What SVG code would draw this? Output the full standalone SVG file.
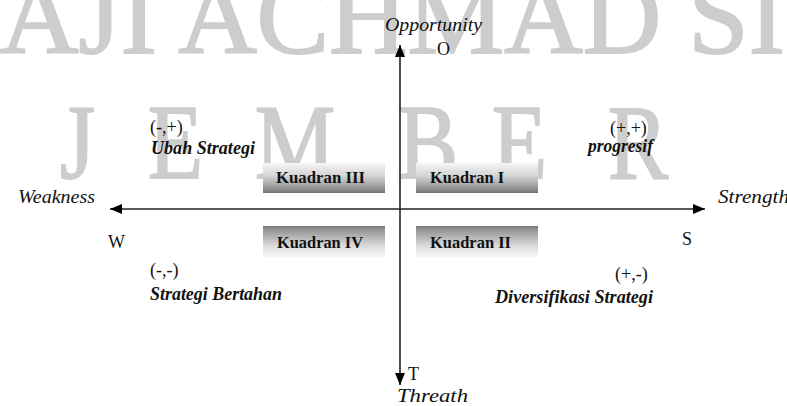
<svg xmlns="http://www.w3.org/2000/svg" width="787" height="406" viewBox="0 0 787 406">
<style>
.wm{font-family:"Liberation Serif","Times New Roman",serif;fill:#cdcdcd;stroke:#cdcdcd;stroke-width:2}
.ax{font-family:"Liberation Serif","Times New Roman",serif;font-style:italic;font-size:19px;fill:#111}
.lt{font-family:"Liberation Serif","Times New Roman",serif;font-size:18px;fill:#111}
.sc{font-family:"Liberation Serif","Times New Roman",serif;font-style:italic;font-weight:bold;font-size:19px;fill:#111}
.kd{font-family:"Liberation Serif","Times New Roman",serif;font-weight:bold;font-size:16.5px;fill:#111}
.axis{stroke:#222;stroke-width:1.6;fill:none}
</style>
<defs>
<linearGradient id="gTop" x1="0" y1="0" x2="0" y2="1">
<stop offset="0" stop-color="#f6f6f6"/>
<stop offset="0.45" stop-color="#d2d2d2"/>
<stop offset="0.9" stop-color="#8a8a8a"/>
<stop offset="1" stop-color="#6e6e6e"/>
</linearGradient>
<linearGradient id="gBot" x1="0" y1="0" x2="0" y2="1">
<stop offset="0" stop-color="#7a7a7a"/>
<stop offset="0.12" stop-color="#949494"/>
<stop offset="0.6" stop-color="#d6d6d6"/>
<stop offset="1" stop-color="#f8f8f8"/>
</linearGradient>
<marker id="arr" viewBox="0 0 12 10" refX="12" refY="5" markerWidth="12" markerHeight="10" markerUnits="userSpaceOnUse" orient="auto-start-reverse">
<path d="M0,0 L12,5 L0,10 z" fill="#000"/>
</marker>
</defs>
<rect width="787" height="406" fill="#fff"/>
<g id="watermark">
<text class="wm" x="0" y="53" font-size="108" textLength="785" lengthAdjust="spacingAndGlyphs">AJI ACHMAD SI</text>
<g font-size="106">
<text class="wm" transform="translate(60,178) scale(0.85,1)">J</text>
<text class="wm" transform="translate(148,178) scale(0.85,1)">E</text>
<text class="wm" transform="translate(255,178) scale(0.85,1)">M</text>
<text class="wm" transform="translate(398,178) scale(0.85,1)">B</text>
<text class="wm" transform="translate(492,178) scale(0.85,1)">E</text>
<text class="wm" transform="translate(608,178) scale(0.85,1)">R</text>
</g>
</g>
<g id="connectors">
<line class="axis" x1="400" y1="45" x2="400" y2="385" marker-start="url(#arr)" marker-end="url(#arr)"/>
<line class="axis" x1="110" y1="209" x2="705" y2="209" marker-start="url(#arr)" marker-end="url(#arr)"/>
</g>
<g id="kuadran-3"><rect x="263" y="163" width="122" height="30" fill="url(#gTop)"/><text class="kd" x="276" y="183" textLength="89" lengthAdjust="spacingAndGlyphs">Kuadran III</text></g>
<g id="kuadran-1"><rect x="416" y="163" width="122" height="30" fill="url(#gTop)"/><text class="kd" x="430" y="183" textLength="74" lengthAdjust="spacingAndGlyphs">Kuadran I</text></g>
<g id="kuadran-4"><rect x="263" y="226" width="122" height="31" fill="url(#gBot)"/><text class="kd" x="277" y="248" textLength="86" lengthAdjust="spacingAndGlyphs">Kuadran IV</text></g>
<g id="kuadran-2"><rect x="416" y="226" width="122" height="31" fill="url(#gBot)"/><text class="kd" x="430" y="248" textLength="81" lengthAdjust="spacingAndGlyphs">Kuadran II</text></g>
<g id="opportunity"><text class="ax" x="385" y="31" textLength="97" lengthAdjust="spacingAndGlyphs">Opportunity</text><text class="lt" x="437" y="55">O</text></g>
<g id="threat"><text class="lt" x="408" y="380">T</text><text class="ax" x="397" y="402" textLength="71" lengthAdjust="spacingAndGlyphs">Threath</text></g>
<g id="weakness"><text class="ax" x="18" y="203" textLength="77" lengthAdjust="spacingAndGlyphs">Weakness</text><text class="lt" x="108" y="248">W</text></g>
<g id="strength"><text class="ax" x="718" y="203" textLength="71" lengthAdjust="spacingAndGlyphs">Strength</text><text class="lt" x="682" y="245">S</text></g>
<g id="ubah-strategi"><text class="lt" x="150" y="133">(-,+)</text><text class="sc" x="151" y="154" textLength="104" lengthAdjust="spacingAndGlyphs">Ubah Strategi</text></g>
<g id="progresif"><text class="lt" x="610" y="134">(+,+)</text><text class="sc" x="588" y="152" textLength="65" lengthAdjust="spacingAndGlyphs">progresif</text></g>
<g id="strategi-bertahan"><text class="lt" x="150" y="276">(-,-)</text><text class="sc" x="150" y="300" textLength="132" lengthAdjust="spacingAndGlyphs">Strategi Bertahan</text></g>
<g id="diversifikasi-strategi"><text class="lt" x="615" y="280">(+,-)</text><text class="sc" x="495" y="303" textLength="158" lengthAdjust="spacingAndGlyphs">Diversifikasi Strategi</text></g>
</svg>
